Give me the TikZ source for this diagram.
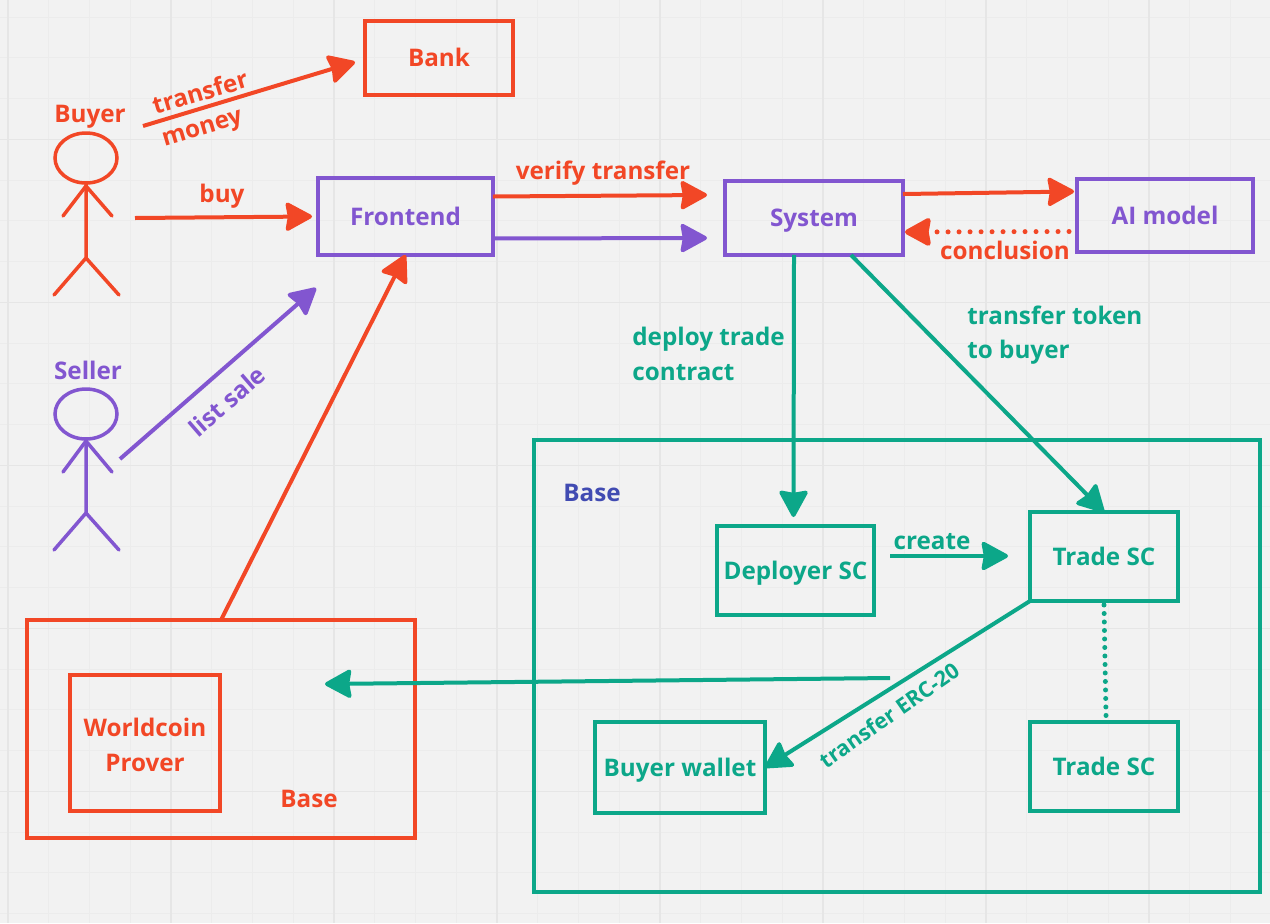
\documentclass[tikz,border=0pt]{standalone}
\usepackage{fontspec}
\setmainfont{Open Sans}
\usetikzlibrary{arrows.meta}
\definecolor{redline}{HTML}{F24726}
\definecolor{purpleline}{HTML}{8256D0}
\definecolor{greenline}{HTML}{0CA789}
\definecolor{blueline}{HTML}{414BB2}
\definecolor{paper}{HTML}{F2F2F2}
\definecolor{gridthin}{HTML}{ECECEC}
\definecolor{gridthick}{HTML}{E6E6E6}
\tikzset{
    label text/.style={font=\fontsize{13.8}{19.6}\selectfont\bfseries, inner sep=0pt, text=#1},
    box/.style={draw=#1, text=#1, line width=0.08cm, font=\fontsize{13.8}{19.6}\selectfont\bfseries, inner sep=0pt, outer sep=0pt, text height=0.34cm, text depth=0pt},
    link/.style={draw=#1, line width=0.08cm, -{Stealth[length=0.58cm, width=0.62cm, inset=0.05cm, round]}},
    dotline/.style={draw=#1, line width=0.1cm, line cap=round, dash pattern=on 0pt off 0.17cm},
    figure/.style={draw=#1, line width=0.07cm, line cap=round},
}
\begin{document}
\begin{tikzpicture}[x=0.02cm, y=-0.02cm]
    \useasboundingbox (0, 0) rectangle (1270, 923);
    \fill[paper] (0, 0) rectangle (1270, 923);
    % grid
    \foreach \n in {0, ..., 30} {
        \draw[gridthin, line width=0.02cm] ({8 + 40.75*\n}, 0) -- ({8 + 40.75*\n}, 923);
    }
    \foreach \n in {0, ..., 22} {
        \draw[gridthin, line width=0.02cm] (0, {17 + 40.75*\n}) -- (1270, {17 + 40.75*\n});
    }
    \foreach \n in {0, 4, ..., 28} {
        \draw[gridthick, line width=0.03cm] ({8 + 40.75*\n}, 0) -- ({8 + 40.75*\n}, 923);
    }
    \foreach \n in {3, 7, ..., 19} {
        \draw[gridthick, line width=0.03cm] (0, {17 + 40.75*\n}) -- (1270, {17 + 40.75*\n});
    }

    % boxes
    \node[box=redline, minimum width=2.96cm, minimum height=1.48cm] (bank) at (439, 58) {Bank};
    \node[box=purpleline, minimum width=3.5cm, minimum height=1.54cm] (frontend) at (405.5, 216.5) {Frontend};
    \node[box=purpleline, minimum width=3.56cm, minimum height=1.48cm] (system) at (814, 218) {System};
    \node[box=purpleline, minimum width=3.52cm, minimum height=1.46cm] (aimodel) at (1165, 215.5) {AI model};
    \node[box=greenline, minimum width=14.52cm, minimum height=9.04cm] (basegreen) at (897, 666) {};
    \node[box=greenline, minimum width=3.14cm, minimum height=1.78cm] (deployer) at (795.5, 570.5) {Deployer SC};
    \node[box=greenline, minimum width=2.96cm, minimum height=1.78cm] (trade) at (1104, 556.5) {Trade SC};
    \node[box=greenline, minimum width=2.96cm, minimum height=1.78cm] (tradetwo) at (1104, 766.5) {Trade SC};
    \node[box=greenline, minimum width=3.4cm, minimum height=1.82cm] (wallet) at (680, 767.5) {Buyer wallet};
    \node[box=redline, minimum width=7.76cm, minimum height=4.36cm] (basered) at (221, 729) {};
    \node[box=redline, minimum width=3cm, minimum height=2.72cm] (prover) at (145, 743) {};

    % free ends
    \coordinate (buyerhand) at (135, 218);
    \coordinate (buyerarm) at (143, 126);
    \coordinate (bankend) at (355, 62);
    \coordinate (sellerhand) at (120, 459);
    \coordinate (frontendend) at (316, 288);
    \coordinate (verifyend) at (707, 195);
    \coordinate (replyend) at (707, 238);
    \coordinate (createstart) at (890, 556);
    \coordinate (createend) at (1008, 556);
    \coordinate (crossstart) at (890, 678);
    \coordinate (crossend) at (325, 684);

    % buyer
    \draw[figure=redline] (86, 158) ellipse (31 and 25);
    \draw[figure=redline] (86, 184) -- (86, 258) -- (54, 295);
    \draw[figure=redline] (86, 258) -- (119, 295);
    \draw[figure=redline] (63, 216) -- (86, 186) -- (112, 216);

    % seller
    \draw[figure=purpleline] (86, 414) ellipse (31 and 25);
    \draw[figure=purpleline] (86, 439) -- (86, 513) -- (54, 550);
    \draw[figure=purpleline] (86, 513) -- (119, 550);
    \draw[figure=purpleline] (63, 472) -- (86, 441) -- (112, 472);

    % arrows
    \draw[link=redline] (buyerarm) -- (bankend);
    \draw[link=redline] (buyerhand) -- ([xshift=-0.12cm]frontend.west);
    \draw[link=purpleline] (sellerhand) -- (frontendend);
    \draw[link=redline] ([xshift=-3.88cm]basered.north east) -- (frontend.south);
    \draw[link=redline] ([yshift=0.4cm]frontend.east) -- (verifyend);
    \draw[link=purpleline] ([yshift=-0.44cm]frontend.east) -- (replyend);
    \draw[link=redline] ([yshift=0.48cm]system.east) -- ([yshift=0.48cm, xshift=-0.06cm]aimodel.west);
    \draw[link=redline, line width=0.1cm, line cap=round, dash pattern=on 0pt off 0.22cm] ([yshift=-0.32cm, xshift=-0.16cm]aimodel.west) -- ([yshift=-0.28cm, xshift=0.04cm]system.east);
    \draw[link=greenline] ([xshift=-0.4cm]system.south) -- ([xshift=-0.04cm, yshift=0.18cm]deployer.north);
    \draw[link=greenline] ([xshift=0.74cm]system.south) -- (trade.north);
    \draw[link=greenline] (createstart) -- (createend);
    \draw[link=greenline] (trade.south west) -- (wallet.east);
    \draw[link=greenline] (crossstart) -- (crossend);
    \draw[dotline=greenline] ([yshift=-0.08cm]trade.south) -- ([xshift=0.04cm, yshift=0.12cm]tradetwo.north);

    % labels
    \node[label text=redline] (buyerlabel) at (90, 117) {Buyer};
    \node[label text=purpleline] (sellerlabel) at (88, 370) {Seller};
    \node[label text=redline, rotate=16.5] (transferlabel) at (200, 92) {transfer};
    \node[label text=redline, rotate=16.5] (moneylabel) at (203, 131) {money};
    \node[label text=redline] (buylabel) at (222, 196) {buy};
    \node[label text=redline] (verifylabel) at (603, 173) {verify transfer};
    \node[label text=redline] (conclusionlabel) at (1005, 250) {conclusion};
    \node[label text=purpleline, rotate=41] (listlabel) at (227, 401) {list sale};
    \node[label text=greenline, align=left, anchor=west] (deploylabel) at (632, 354) {deploy trade\\contract};
    \node[label text=greenline, align=left, anchor=west] (tokenlabel) at (967, 335) {transfer token\\to buyer};
    \node[label text=blueline] (basebluelabel) at (592, 493) {Base};
    \node[label text=greenline] (createlabel) at (932, 542) {create};
    \node[label text=greenline, rotate=35, font=\fontsize{12.3}{14}\selectfont\bfseries] (erclabel) at (889, 715) {transfer ERC-20};
    \node[label text=redline] (baseredlabel) at (309, 799) {Base};
    \node[label text=redline, align=center] (proverlabel) at (145, 745) {Worldcoin\\Prover};
\end{tikzpicture}
\end{document}
